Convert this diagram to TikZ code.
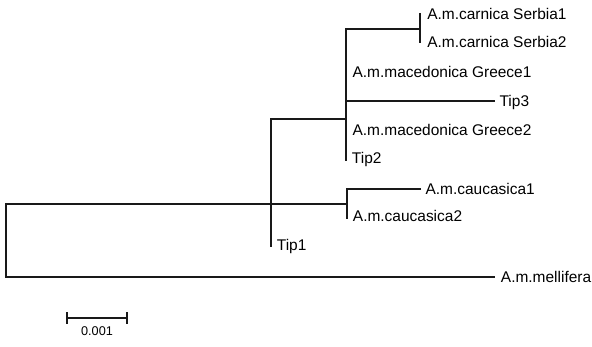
\documentclass[tikz,border=0pt]{standalone}
\usepackage{fontspec}
\setmainfont{Liberation Sans}
\begin{document}
\begin{tikzpicture}
        [x=0.75pt,y=-0.75pt,line width=0.9pt,draw=black!90,
         every node/.style={anchor=west,inner xsep=3pt,inner ysep=0pt,
         font=\fontsize{11.6}{13}\selectfont,text height=8.3pt,text depth=0pt}]
        \useasboundingbox (0,0) rectangle (592,346);

        % internal nodes
        \coordinate (Root)  at (6,240.5);
        \coordinate (In)    at (271,204);
        \coordinate (InTop) at (271,162);
        \coordinate (Up)    at (346,119);
        \coordinate (Se)    at (420,29);
        \coordinate (Ca)    at (347,204);

        % tips
        \node[inner xsep=5pt] (Ser1) at (420,14)  {A.m.carnica Serbia1};
        \node[inner xsep=5pt] (Ser2) at (420,42)  {A.m.carnica Serbia2};
        \node[inner xsep=4.5pt] (Gr1)  at (346,72)  {A.m.macedonica Greece1};
        \node (Tip3) at (495,101) {Tip3};
        \node[inner xsep=4.5pt] (Gr2)  at (346,130) {A.m.macedonica Greece2};
        \node[inner xsep=4pt] (Tip2) at (346,158) {Tip2};
        \node (Cau1) at (421,189) {A.m.caucasica1};
        \node[inner xsep=4pt] (Cau2) at (347,216) {A.m.caucasica2};
        \node[inner xsep=4pt] (Tip1) at (271,245) {Tip1};
        \node[inner xsep=4pt] (Mel)  at (495,277) {A.m.mellifera};

        % branches
        \draw (In) -| (Root) |- (Mel.west);
        \draw (Up) -| (In) -- (271,247);
        \draw[line width=1.6pt] (InTop) -- (In);
        \draw (Se) -| (Up) -- (346,161);
        \draw (Up) |- (Tip3.west);
        \draw (420,13) -- (420,43);
        \draw (In) -- (Ca);
        \draw (Cau1.west) -| (Ca) -- (347,219);

        % scale bar
        \coordinate (SB1) at (67,318);
        \coordinate (SB2) at (127,318);
        \node[anchor=center,font=\fontsize{9.5}{11}\selectfont,text height=6.8pt] (SBL) at (97,331) {0.001};
        \draw (SB1) -- (SB2);
        \draw ([yshift=4.5pt]SB1) -- ([yshift=-4.5pt]SB1);
        \draw ([yshift=4.5pt]SB2) -- ([yshift=-4.5pt]SB2);
\end{tikzpicture}
\end{document}
